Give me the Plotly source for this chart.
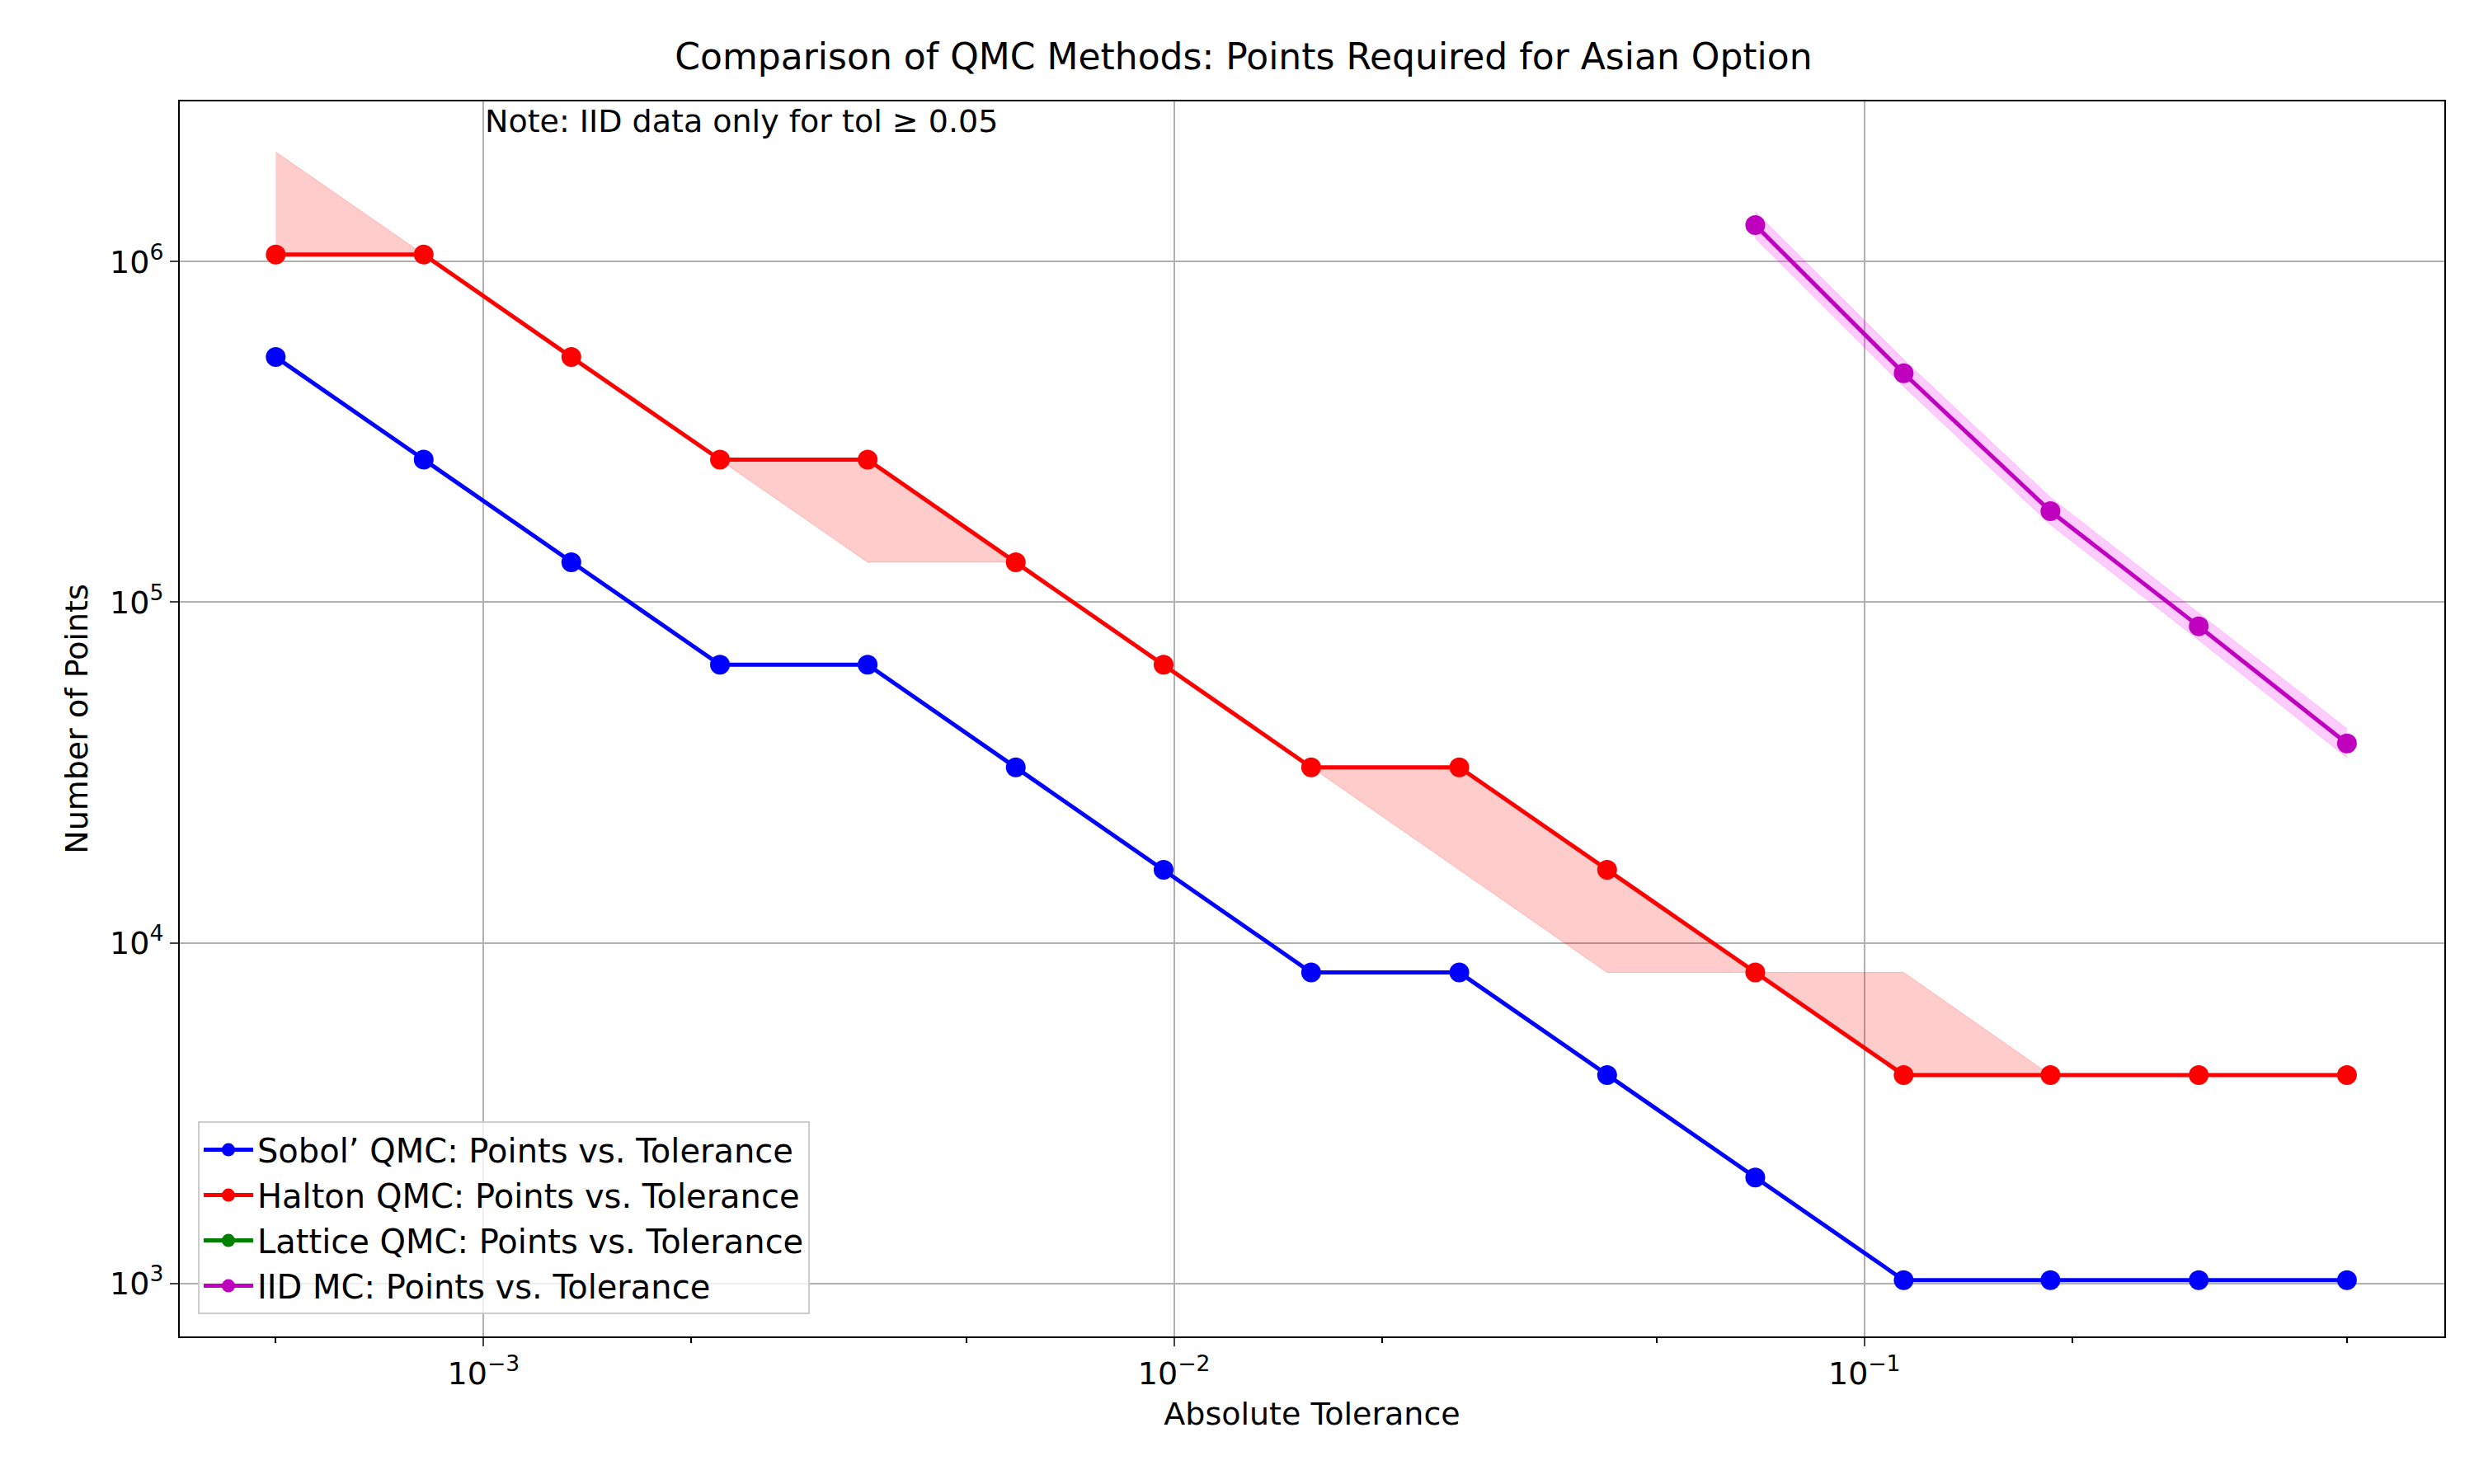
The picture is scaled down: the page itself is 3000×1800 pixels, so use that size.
import plotly.graph_objects as go

tol = [0.0005, 0.000819, 0.00134, 0.0022, 0.0036, 0.0059, 0.00966, 0.0158,
       0.0259, 0.0424, 0.0695, 0.114, 0.186, 0.305, 0.5]
sobol = [524288, 262144, 131072, 65536, 65536, 32768, 16384, 8192,
         8192, 4096, 2048, 1024, 1024, 1024, 1024]
halton = [1048576, 1048576, 524288, 262144, 262144, 131072, 65536, 32768,
          32768, 16384, 8192, 4096, 4096, 4096, 4096]
halton_hi = [2097152, 1048576, 524288, 262144, 262144, 131072, 65536, 32768,
             32768, 16384, 8192, 8192, 4096, 4096, 4096]
halton_lo = [1048576, 1048576, 524288, 262144, 131072, 131072, 65536, 32768,
             16384, 8192, 8192, 4096, 4096, 4096, 4096]
iid_tol = [0.0695, 0.114, 0.186, 0.305, 0.5]
iid = [1280000, 470000, 185000, 85000, 38500]
iid_hi = [1400000, 515000, 203000, 93000, 42500]
iid_lo = [1170000, 430000, 169000, 77500, 35000]

fig = go.Figure()

# shaded bands
fig.add_trace(go.Scatter(x=tol, y=halton_hi, mode="lines", line=dict(width=1, color="rgba(255,0,0,0.2)"),
                         showlegend=False, hoverinfo="skip"))
fig.add_trace(go.Scatter(x=tol, y=halton_lo, mode="lines", line=dict(width=1, color="rgba(255,0,0,0.2)"),
                         fill="tonexty", fillcolor="rgba(255,0,0,0.2)", showlegend=False, hoverinfo="skip"))
fig.add_trace(go.Scatter(x=iid_tol, y=iid_hi, mode="lines", line=dict(width=1, color="rgba(255,0,255,0.2)"),
                         showlegend=False, hoverinfo="skip"))
fig.add_trace(go.Scatter(x=iid_tol, y=iid_lo, mode="lines", line=dict(width=1, color="rgba(255,0,255,0.2)"),
                         fill="tonexty", fillcolor="rgba(255,0,255,0.2)", showlegend=False, hoverinfo="skip"))

mk = dict(size=24)
fig.add_trace(go.Scatter(x=tol, y=sobol, mode="lines+markers", name="Sobol’ QMC: Points vs. Tolerance",
                         line=dict(color="blue", width=5), marker=dict(color="blue", **mk)))
fig.add_trace(go.Scatter(x=tol, y=halton, mode="lines+markers", name="Halton QMC: Points vs. Tolerance",
                         line=dict(color="red", width=5), marker=dict(color="red", **mk)))
fig.add_trace(go.Scatter(x=[None], y=[None], mode="lines+markers", name="Lattice QMC: Points vs. Tolerance",
                         line=dict(color="green", width=5), marker=dict(color="green", **mk)))
fig.add_trace(go.Scatter(x=iid_tol, y=iid, mode="lines+markers", name="IID MC: Points vs. Tolerance",
                         line=dict(color="#bf00bf", width=5), marker=dict(color="#bf00bf", **mk)))

fig.add_annotation(x=-3, y=1, xref="x", yref="paper", text="Note: IID data only for tol ≥ 0.05",
                   showarrow=False, xanchor="left", yanchor="top", font=dict(size=38, color="black"))

axis = dict(showline=True, linecolor="black", linewidth=2, mirror=True, ticks="outside",
            ticklen=10, tickwidth=2, gridcolor="#b0b0b0", gridwidth=2, zeroline=False,
            tickfont=dict(size=38, color="black"), title_font=dict(size=38, color="black"))

fig.update_xaxes(type="log", range=[-3.44, -0.16], tickvals=[0.001, 0.01, 0.1],
                 ticktext=["10<sup>−3</sup>", "10<sup>−2</sup>", "10<sup>−1</sup>"],
                 title_text="Absolute Tolerance",
                 minor=dict(ticks="outside", ticklen=6, tickwidth=1.5, tickcolor="black", showgrid=False,
                            dtick="D2"),
                 **axis)
fig.update_yaxes(type="log", range=[2.845, 6.47], tickvals=[1e3, 1e4, 1e5, 1e6],
                 ticktext=["10<sup>3</sup>", "10<sup>4</sup>", "10<sup>5</sup>", "10<sup>6</sup>"],
                 title_text="Number of Points", **axis)

fig.update_layout(
    width=3000, height=1800, plot_bgcolor="white", paper_bgcolor="white",
    font=dict(family="DejaVu Sans", color="black"),
    title=dict(text="Comparison of QMC Methods: Points Required for Asian Option", x=0.5, xanchor="center",
               y=0.975, font=dict(size=44)),
    margin=dict(l=210, r=44, t=115, b=187),
    legend=dict(x=0.008, y=0.018, xanchor="left", yanchor="bottom", bgcolor="rgba(255,255,255,0.8)",
                bordercolor="#cccccc", borderwidth=2, font=dict(size=40), traceorder="normal",
                itemwidth=60),
)

fig.write_html("out.html")
